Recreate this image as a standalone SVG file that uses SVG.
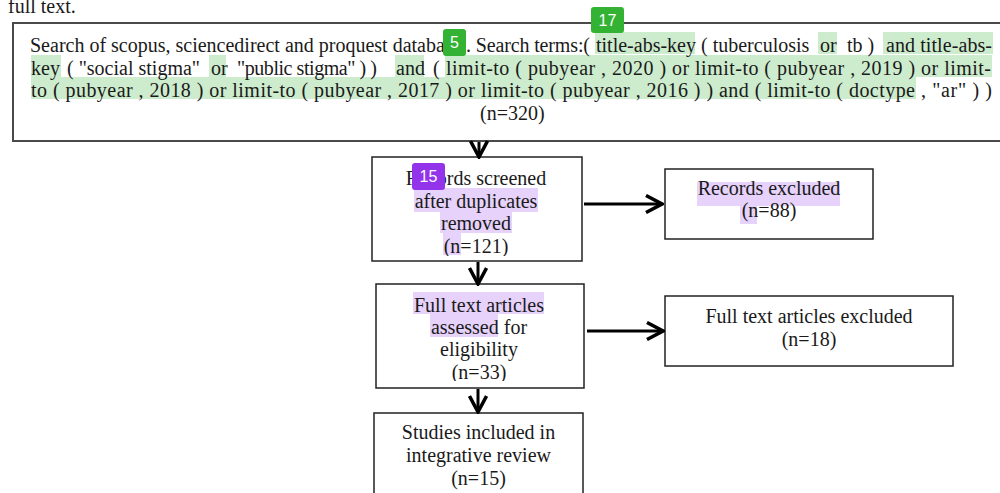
<svg xmlns="http://www.w3.org/2000/svg" width="1000" height="493" viewBox="0 0 1000 493">
<style>
  .t { font-family: "Liberation Serif", "Times New Roman", serif; font-size: 20px; fill: #1a1a1a; }
  .c { text-anchor: middle; }
  .box { fill: #ffffff; stroke: #222222; stroke-width: 1.5; }
  .topbox { fill: #ffffff; stroke: #4a4a4a; stroke-width: 2; }
  .hg { fill: #cdeccd; }
  .hp { fill: #e6d2fb; }
  .badge-text { font-family: "Liberation Sans", Arial, sans-serif; font-size: 16px; fill: #ffffff; text-anchor: middle; }
  .conn { stroke: #000000; stroke-width: 3; fill: none; marker-end: url(#chev); }
</style>
<defs>
  <marker id="chev" viewBox="0 0 20 20" refX="18" refY="10" markerWidth="20" markerHeight="20" markerUnits="userSpaceOnUse" orient="auto">
    <path d="M2,1.5 L18,10 L2,18.5" fill="none" stroke="#000000" stroke-width="3.5"/>
  </marker>
  <clipPath id="clip121"><rect x="372" y="157" width="210" height="99"/></clipPath>
  <clipPath id="clip33"><rect x="376" y="284" width="208" height="97"/></clipPath>
</defs>
<rect width="1000" height="493" fill="#ffffff"/>

<text class="t" x="8" y="13">full text.</text>

<g id="search">
  <rect class="topbox" x="13" y="23" width="990" height="118"/>
  <rect class="hg" x="595" y="32" width="100" height="22"/>
  <rect class="hg" x="818" y="32" width="19" height="22"/>
  <rect class="hg" x="883" y="32" width="110" height="22"/>
  <rect class="hg" x="31" y="55" width="30" height="22"/>
  <rect class="hg" x="209" y="55" width="17" height="22"/>
  <rect class="hg" x="395" y="55" width="29" height="22"/>
  <rect class="hg" x="445" y="55" width="547" height="22"/>
  <rect class="hg" x="31" y="77" width="885" height="22"/>
  <text class="t" x="30" y="52">Search of scopus, sciencedirect and proquest database</text>
  <text class="t" x="466" y="52" textLength="124" lengthAdjust="spacing">. Search terms:(</text>
  <text class="t" x="596" y="52">title-abs-key</text>
  <text class="t" x="701" y="52">( tuberculosis</text>
  <text class="t" x="820" y="52">or</text>
  <text class="t" x="847" y="52">tb )</text>
  <text class="t" x="886" y="52" textLength="106" lengthAdjust="spacing">and  title-abs-</text>
  <text class="t" x="31" y="75">key</text>
  <text class="t" x="67" y="75" textLength="133" lengthAdjust="spacing">( "social stigma"</text>
  <text class="t" x="211" y="75">or</text>
  <text class="t" x="237" y="75" textLength="140" lengthAdjust="spacing">"public stigma" ) )</text>
  <text class="t" x="396" y="75">and</text>
  <text class="t" x="433" y="75">(</text>
  <text class="t" x="446" y="75" textLength="545" lengthAdjust="spacing">limit-to ( pubyear , 2020 ) or limit-to ( pubyear , 2019 ) or limit-</text>
  <text class="t" x="31" y="97" textLength="884" lengthAdjust="spacing">to ( pubyear , 2018 ) or limit-to ( pubyear , 2017 ) or limit-to ( pubyear , 2016 ) ) and ( limit-to ( doctype</text>
  <text class="t" x="921" y="97" textLength="71" lengthAdjust="spacing">, "ar" ) )</text>
  <text class="t" x="480" y="120">(n=320)</text>
  <rect x="443" y="29" width="23" height="27" rx="3" fill="#33b233"/>
  <text class="badge-text" x="454.5" y="48">5</text>
  <rect x="591" y="7" width="33" height="26" rx="3" fill="#33b233"/>
  <text class="badge-text" x="607.5" y="26">17</text>
</g>

<g id="screened">
  <rect class="box" x="372" y="157" width="210" height="104"/>
  <rect class="hp" x="414" y="188" width="124" height="24"/>
  <rect class="hp" x="440" y="212" width="72" height="21"/>
  <rect class="hp" x="443" y="233" width="18" height="22"/>
  <text class="t c" x="476" y="185">Records screened</text>
  <text class="t c" x="476" y="208">after duplicates</text>
  <text class="t c" x="476" y="230">removed</text>
  <text class="t c" x="476" y="253" clip-path="url(#clip121)">(n=121)</text>
  <rect x="412" y="163" width="33" height="27" rx="3" fill="#9333ea"/>
  <text class="badge-text" x="428.5" y="182">15</text>
</g>

<g id="excluded">
  <rect class="box" x="665" y="169" width="208" height="70"/>
  <rect class="hp" x="697" y="182" width="143" height="24"/>
  <rect class="hp" x="740" y="206" width="17" height="18"/>
  <text class="t c" x="769" y="195">Records excluded</text>
  <text class="t c" x="769" y="217">(n=88)</text>
</g>

<g id="assessed">
  <rect class="box" x="376" y="284" width="208" height="104"/>
  <rect class="hp" x="413" y="292" width="131" height="22"/>
  <rect class="hp" x="430" y="314" width="68" height="23"/>
  <text class="t c" x="479" y="312">Full text articles</text>
  <text class="t c" x="479" y="334">assessed for</text>
  <text class="t c" x="479" y="356">eligibility</text>
  <text class="t c" x="479" y="379" clip-path="url(#clip33)">(n=33)</text>
</g>

<g id="fulltext-excluded">
  <rect class="box" x="665" y="296" width="288" height="70"/>
  <text class="t c" x="809" y="323">Full text articles excluded</text>
  <text class="t c" x="809" y="346">(n=18)</text>
</g>

<g id="included">
  <rect class="box" x="374" y="413" width="209" height="95"/>
  <text class="t c" x="478.5" y="439">Studies included in</text>
  <text class="t c" x="478.5" y="462">integrative review</text>
  <text class="t c" x="478.5" y="485">(n=15)</text>
</g>

<g id="connectors">
  <line class="conn" x1="479" y1="142" x2="479" y2="157"/>
  <line class="conn" x1="584" y1="204" x2="662" y2="204"/>
  <line class="conn" x1="478" y1="262" x2="478" y2="284"/>
  <line class="conn" x1="587" y1="331" x2="663" y2="331"/>
  <line class="conn" x1="478" y1="389" x2="478" y2="412"/>
</g>
</svg>
